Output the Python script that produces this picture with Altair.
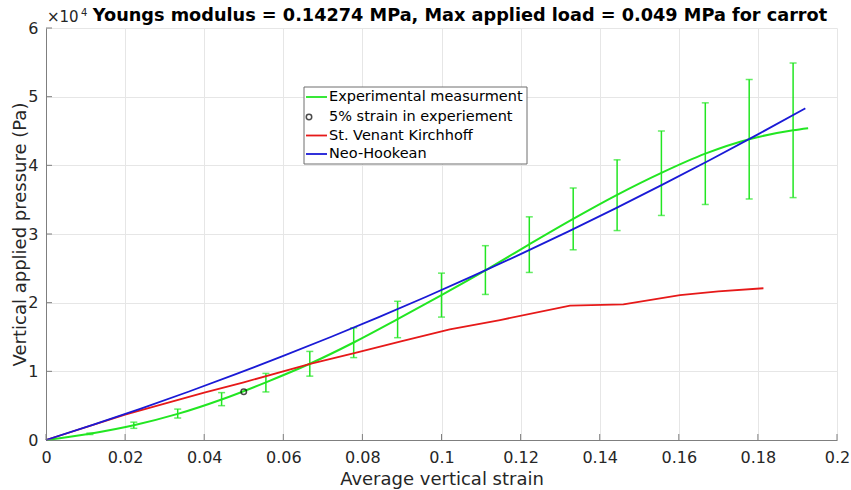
import altair as alt
import pandas as pd

# ---------------- data ----------------
exp_strain = [0, 0.0111, 0.0222, 0.0333, 0.0444, 0.0556, 0.0667, 0.0778, 0.0889,
              0.1, 0.1111, 0.1222, 0.1333, 0.1444, 0.1556, 0.1667, 0.1778, 0.1889, 0.1927]
exp_pressure = [0, 920, 2150, 3800, 5900, 8400, 11100, 14200, 17600,
                21100, 24700, 28500, 32200, 35700, 38900, 41700, 43800, 45100, 45400]

bar_strain = [0.0111, 0.0222, 0.0333, 0.0444, 0.0556, 0.0667, 0.0778, 0.0889, 0.1,
              0.1111, 0.1222, 0.1333, 0.1444, 0.1556, 0.1667, 0.1778, 0.1889]
bar_low = [800, 1700, 3200, 5000, 7000, 9300, 12000, 14900, 17900,
           21200, 24400, 27700, 30500, 32700, 34300, 35100, 35300]
bar_high = [1000, 2600, 4500, 6900, 9700, 12900, 16350, 20200, 24300,
            28300, 32500, 36700, 40800, 45000, 49100, 52500, 54900]

svk_strain = [0, 0.02, 0.04, 0.05, 0.0668, 0.0777, 0.09, 0.1021, 0.1148,
              0.1325, 0.146, 0.1603, 0.17, 0.1814]
svk_pressure = [0, 3700, 6900, 8400, 11070, 12600, 14400, 16100, 17470,
                19560, 19750, 21100, 21650, 22100]

nh_strain = [0, 0.012, 0.024, 0.036, 0.048, 0.06, 0.072, 0.084, 0.096, 0.108,
             0.12, 0.132, 0.144, 0.156, 0.168, 0.18, 0.192]
nh_pressure = [0, 2240, 4580, 7030, 9580, 12240, 15000, 17860, 20830, 23900,
               27070, 30350, 33740, 37220, 40810, 44510, 48300]

marker_strain = [0.05]
marker_pressure = [7030]

x_ticks = [0, 0.02, 0.04, 0.06, 0.08, 0.1, 0.12, 0.14, 0.16, 0.18, 0.2]
y_ticks = [0, 10000, 20000, 30000, 40000, 50000, 60000]

legend_labels = ["Experimental measurment", "5% strain in experiement",
                 "St. Venant Kirchhoff", "Neo-Hookean"]
title_text = "Youngs modulus = 0.14274 MPa, Max applied load = 0.049 MPa for carrot"
x_title = "Average vertical strain"
y_title = "Vertical applied pressure (Pa)"

# ---------------- styling ----------------
GREEN = "#22e622"
RED = "#e61919"
BLUE = "#1a1ad6"
AXIS_GREY = "#7f7f7f"
TEXT = "#262626"
W, H = 791, 412

exp_df = pd.DataFrame({"s": exp_strain, "p": exp_pressure})
bar_df = pd.DataFrame({"s": bar_strain, "lo": bar_low, "hi": bar_high})
svk_df = pd.DataFrame({"s": svk_strain, "p": svk_pressure})
nh_df = pd.DataFrame({"s": nh_strain, "p": nh_pressure})
mk_df = pd.DataFrame({"s": marker_strain, "p": marker_pressure})
xt_df = pd.DataFrame({"s": x_ticks})
yt_df = pd.DataFrame({"p": y_ticks})
one = pd.DataFrame({"a": [0]})

xscale = alt.Scale(domain=[0, 0.2], nice=False)
yscale = alt.Scale(domain=[0, 60000], nice=False)

x_axis = alt.Axis(values=x_ticks, format="~g", ticks=False, tickSize=0,
                  labelFontSize=16, labelColor=TEXT, labelPadding=9, labelFlush=False,
                  domainColor=AXIS_GREY, domainWidth=1,
                  grid=True, gridColor="#e6e6e6", gridWidth=1,
                  title=x_title, titleFontSize=18, titleFontWeight="normal",
                  titleColor=TEXT, titleX=W / 2, titleY=44,
                  titleBaseline="alphabetic", titleAlign="center")
y_axis = alt.Axis(values=y_ticks, labelExpr="datum.value / 10000", ticks=False, tickSize=0,
                  labelFontSize=16, labelColor=TEXT, labelPadding=8, labelFlush=False,
                  domainColor=AXIS_GREY, domainWidth=1,
                  grid=True, gridColor="#e6e6e6", gridWidth=1,
                  title=y_title, titleFontSize=18, titleFontWeight="normal",
                  titleColor=TEXT, titleX=-21, titleY=H / 2, titleAngle=270,
                  titleBaseline="alphabetic", titleAlign="center")


def X(field):
    return alt.X(field, type="quantitative", scale=xscale, axis=x_axis)


def Y(field):
    return alt.Y(field, type="quantitative", scale=yscale, axis=y_axis)


exp_line = alt.Chart(exp_df).mark_line(color=GREEN, strokeWidth=2, interpolate="monotone").encode(
    x=X("s"), y=Y("p"))
bars = alt.Chart(bar_df).mark_rule(color=GREEN, strokeWidth=1.5).encode(
    x=X("s"), y=Y("lo"), y2="hi:Q")
cap_lo = alt.Chart(bar_df).mark_tick(color=GREEN, orient="horizontal", size=7, thickness=1.5).encode(
    x=X("s"), y=Y("lo"))
cap_hi = alt.Chart(bar_df).mark_tick(color=GREEN, orient="horizontal", size=7, thickness=1.5).encode(
    x=X("s"), y=Y("hi"))
svk_line = alt.Chart(svk_df).mark_line(color=RED, strokeWidth=1.8).encode(x=X("s"), y=Y("p"))
nh_line = alt.Chart(nh_df).mark_line(color=BLUE, strokeWidth=1.8, interpolate="monotone").encode(
    x=X("s"), y=Y("p"))
marker = alt.Chart(mk_df).mark_point(shape="circle", filled=False, color="black",
                                     size=30, strokeWidth=1.5).encode(x=X("s"), y=Y("p"))

# inward tick marks (MATLAB style)
xticks = alt.Chart(xt_df).mark_rule(color=AXIS_GREY, strokeWidth=1).encode(
    x=X("s"), y=alt.value(H), y2=alt.value(H - 6))
yticks = alt.Chart(yt_df).mark_rule(color=AXIS_GREY, strokeWidth=1).encode(
    y=Y("p"), x=alt.value(0), x2=alt.value(6))

# title and exponent label
title = alt.Chart(one).mark_text(text=title_text, fontSize=17.7, fontWeight="bold",
                                 color="black", align="center", baseline="alphabetic").encode(
    x=alt.value(414), y=alt.value(-7))
exp10 = alt.Chart(one).mark_text(text="×10", fontSize=15, color=TEXT,
                                 align="left", baseline="alphabetic").encode(
    x=alt.value(1), y=alt.value(-6))
exp4 = alt.Chart(one).mark_text(text="4", fontSize=10, color=TEXT,
                                align="left", baseline="alphabetic").encode(
    x=alt.value(35), y=alt.value(-12))

# legend
LX0, LX1, LY0, LY1 = 258, 481, 59, 136
rows = [69, 89, 107.5, 126]
legend_box = alt.Chart(one).mark_rect(fill="white", stroke="#6e6e6e", strokeWidth=1).encode(
    x=alt.value(LX0), x2=alt.value(LX1), y=alt.value(LY0), y2=alt.value(LY1))
leg_layers = [legend_box]
for col, ry in [(GREEN, rows[0]), (RED, rows[2]), (BLUE, rows[3])]:
    leg_layers.append(alt.Chart(one).mark_rule(color=col, strokeWidth=1.8).encode(
        x=alt.value(260), x2=alt.value(281), y=alt.value(ry)))
leg_layers.append(alt.Chart(one).mark_point(shape="circle", filled=False, color="black",
                                            size=30, strokeWidth=1.5).encode(
    x=alt.value(263), y=alt.value(rows[1])))
for lab, ry in zip(legend_labels, rows):
    leg_layers.append(alt.Chart(one).mark_text(text=lab, fontSize=14.5, color="black",
                                               align="left", baseline="middle").encode(
        x=alt.value(283), y=alt.value(ry)))

chart = alt.layer(
    exp_line, bars, cap_lo, cap_hi, svk_line, nh_line, marker,
    xticks, yticks, title, exp10, exp4, *leg_layers
).properties(
    width=W, height=H,
    autosize=alt.AutoSizeParams(type="none"),
    padding={"left": 46, "top": 28, "right": 14, "bottom": 50},
    background="white",
).configure(font="DejaVu Sans").configure_view(stroke="transparent")

chart.save("out.html", embed_options={"renderer": "svg", "actions": False})
